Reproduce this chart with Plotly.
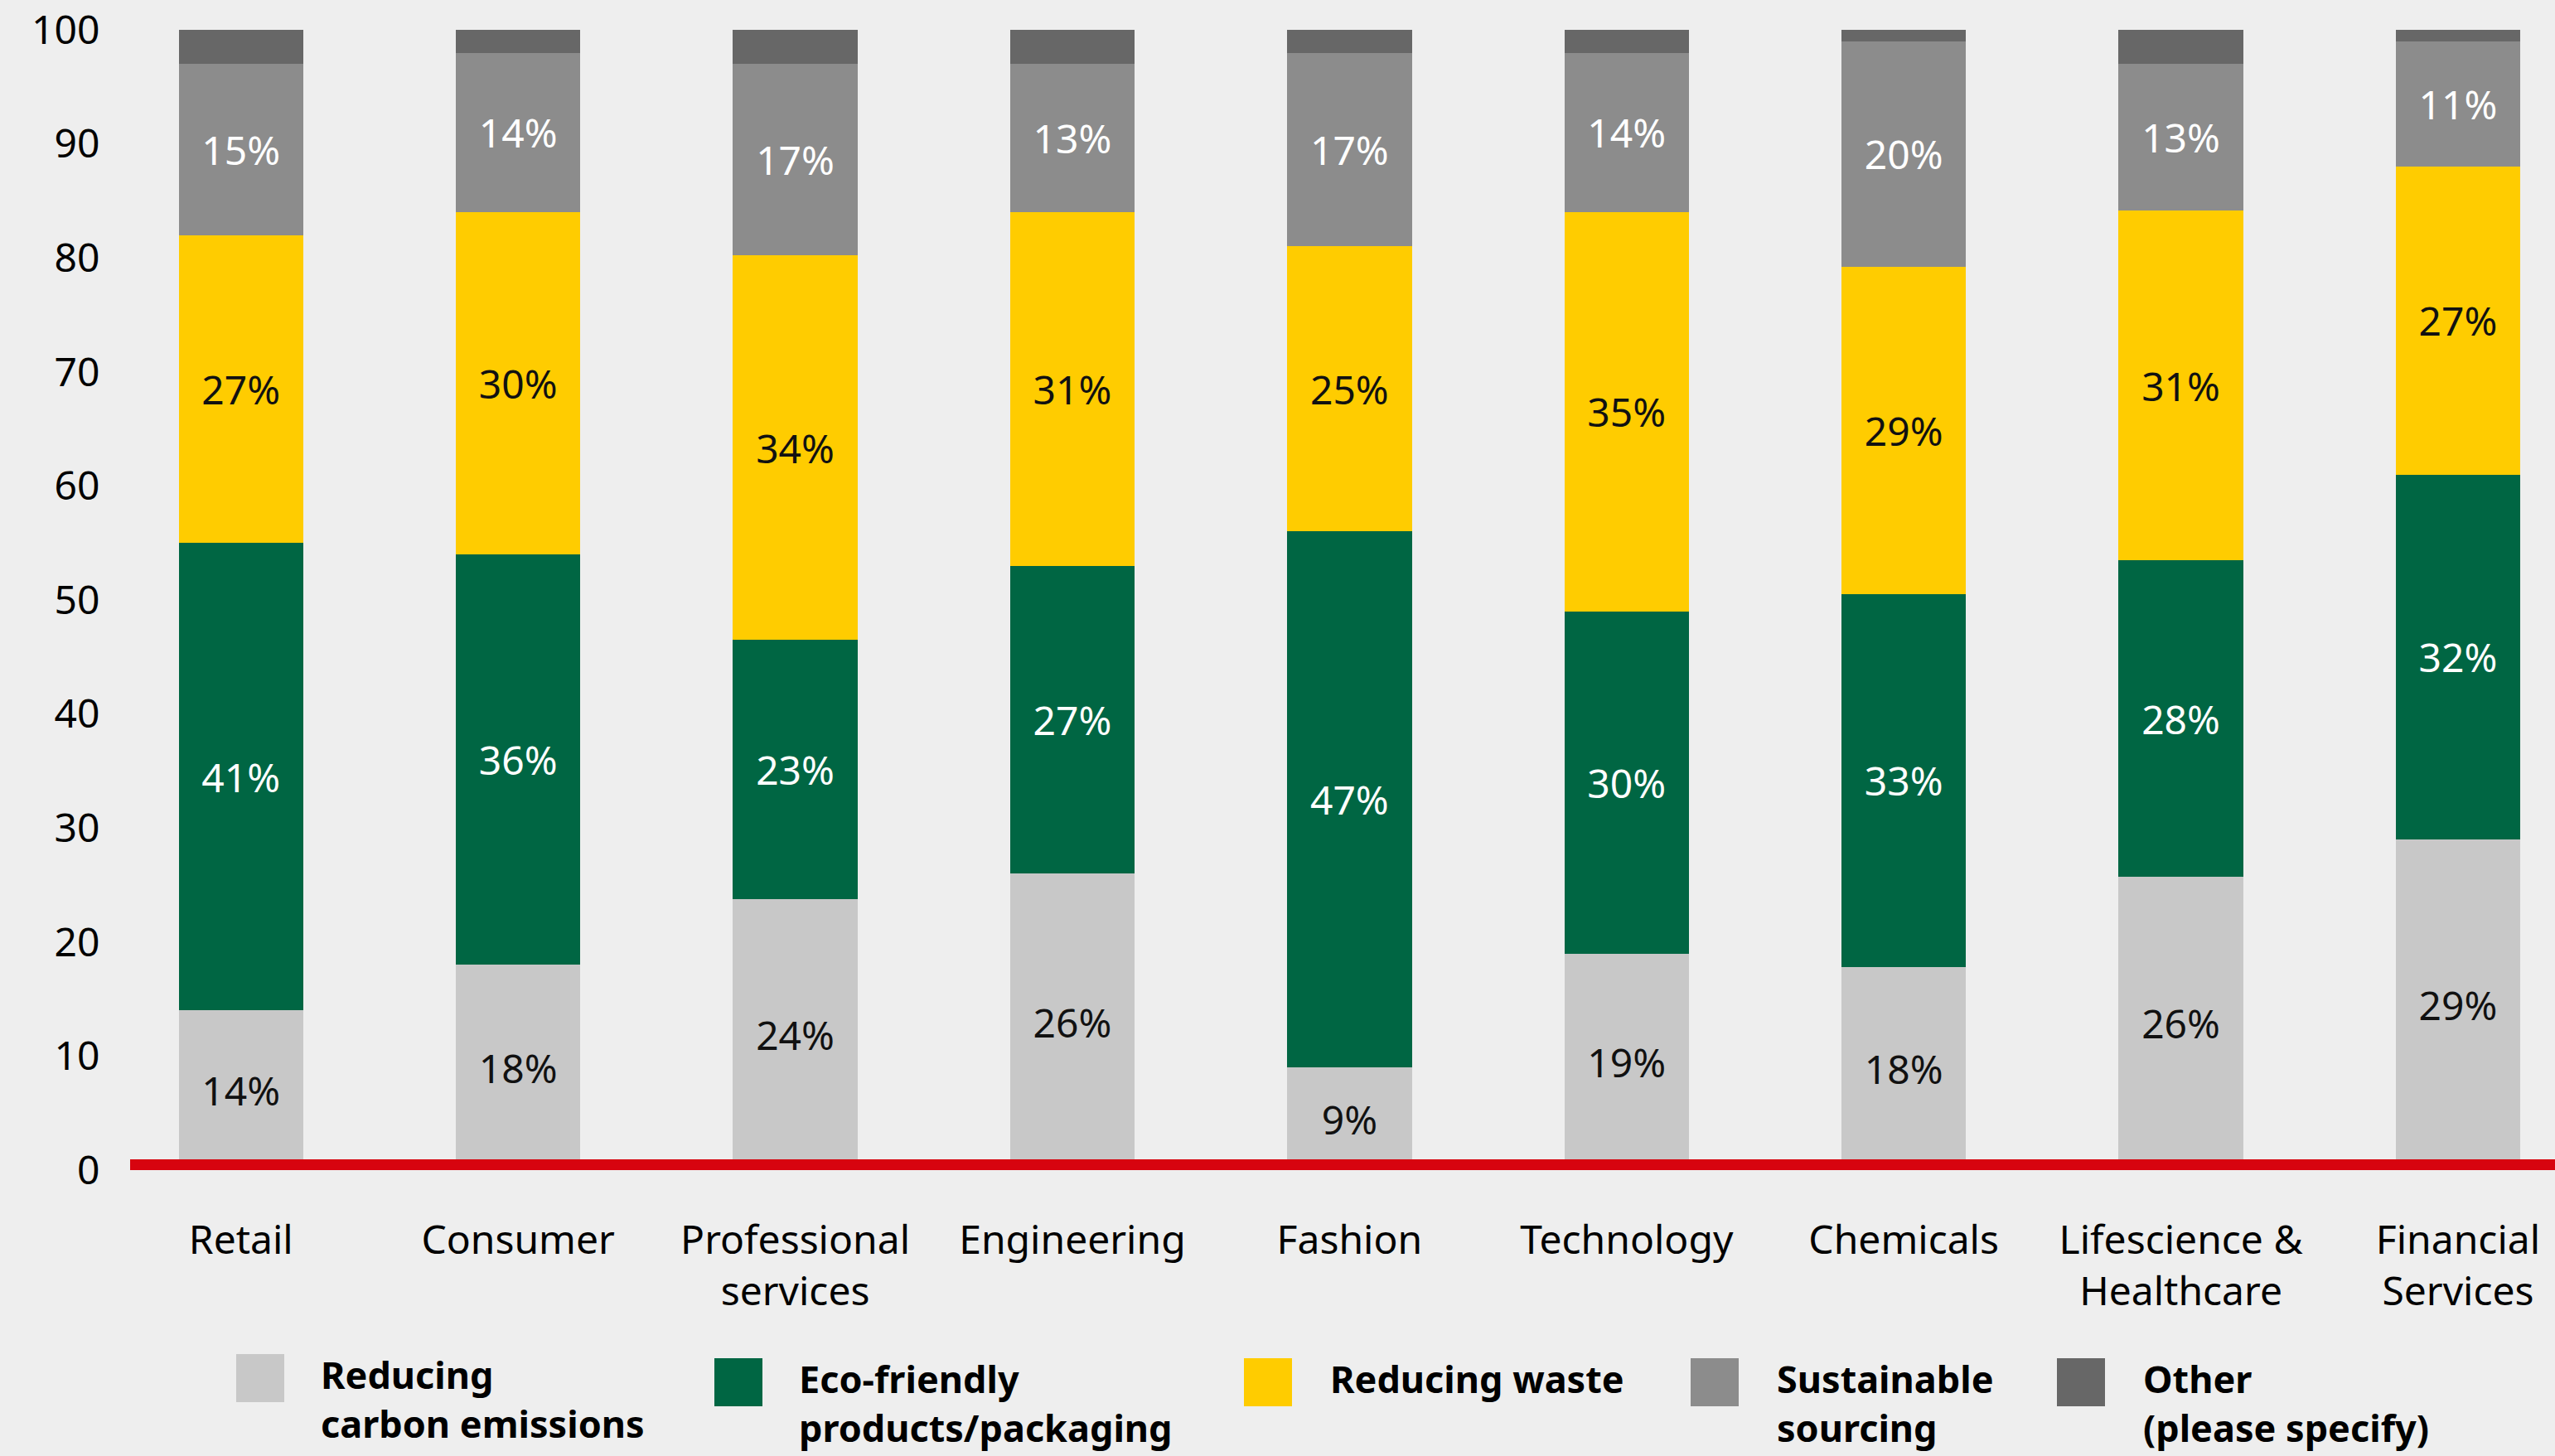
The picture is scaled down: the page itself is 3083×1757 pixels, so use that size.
import plotly.graph_objects as go

# Share of respondents (%) by industry and sustainability focus
categories = ["Retail", "Consumer", "Professional<br>services", "Engineering", "Fashion",
              "Technology", "Chemicals", "Lifescience &<br>Healthcare", "Financial<br>Services"]
reducing_carbon = [14, 18, 24, 26, 9, 19, 18, 26, 29]
eco_friendly = [41, 36, 23, 27, 47, 30, 33, 28, 32]
reducing_waste = [27, 30, 34, 31, 25, 35, 29, 31, 27]
sustainable_sourcing = [15, 14, 17, 13, 17, 14, 20, 13, 11]
other = [3, 2, 3, 3, 2, 2, 1, 3, 1]
y_ticks = [0, 10, 20, 30, 40, 50, 60, 70, 80, 90, 100]

series = [
    ("Reducing<br>carbon emissions", reducing_carbon, "#c8c8c8", "#111111", True),
    ("Eco-friendly<br>products/packaging", eco_friendly, "#006643", "#ffffff", True),
    ("Reducing waste", reducing_waste, "#ffcc00", "#111111", True),
    ("Sustainable<br>sourcing", sustainable_sourcing, "#8c8c8c", "#ffffff", True),
    ("Other<br>(please specify)", other, "#676767", "#ffffff", False),
]

W, H = 3083, 1757
M_L, M_R, M_T, M_B = 157, 0, 36, 345
PLOT_W = W - M_L - M_R
PLOT_H = H - M_T - M_B
FONT = "Noto Sans"


def px_x(px):
    return (px - M_L) / PLOT_W


def px_y(py):
    return (H - M_B - py) / PLOT_H


fig = go.Figure()
x_idx = list(range(len(categories)))
for name, vals, color, txt_color, labelled in series:
    fig.add_trace(go.Bar(
        x=x_idx,
        y=vals,
        name=name.replace("<br>", " "),
        marker=dict(color=color, line=dict(width=0)),
        text=[f"{v}%" for v in vals] if labelled else None,
        textposition="inside" if labelled else "none",
        insidetextanchor="middle",
        textangle=0,
        constraintext="none",
        textfont=dict(family=FONT, size=48, color=txt_color),
        showlegend=False,
    ))

# Red baseline across the full plotting width
fig.add_shape(type="line", xref="paper", yref="y", x0=0, x1=1, y0=0, y1=0,
              line=dict(color="#d7040f", width=26), layer="above")

# Legend built from swatches and bold labels
legend_items = [
    (285, 1634, 385),
    (862, 1639, 962),
    (1501, 1639, 1603),
    (2040, 1639, 2142),
    (2482, 1639, 2584),
]
for (name, vals, color, _, _), (sx, sy, tx) in zip(series, legend_items):
    fig.add_shape(type="rect", xref="paper", yref="paper",
                  x0=px_x(sx), x1=px_x(sx + 58), y0=px_y(sy), y1=px_y(sy + 58),
                  fillcolor=color, line=dict(width=0))
    fig.add_annotation(xref="paper", yref="paper", x=px_x(tx), y=px_y(sy - 8),
                       xanchor="left", yanchor="top", align="left", showarrow=False,
                       text=f"<b>{name}</b>",
                       font=dict(family=FONT, size=45, color="#000000"))

fig.update_layout(
    width=W, height=H,
    margin=dict(l=M_L, r=M_R, t=M_T, b=M_B, pad=0),
    barmode="stack",
    barnorm="percent",
    bargap=0.55,
    paper_bgcolor="#eeeeee",
    plot_bgcolor="rgba(0,0,0,0)",
    font=dict(family=FONT, color="#000000"),
    showlegend=False,
)
fig.update_xaxes(
    range=[-0.40, 8.35],
    tickmode="array", tickvals=x_idx, ticktext=categories,
    tickfont=dict(family=FONT, size=48, color="#000000"),
    ticks="outside", ticklen=42, tickcolor="rgba(0,0,0,0)",
    showgrid=False, zeroline=False, showline=False,
)
fig.update_yaxes(
    range=[0, 100],
    tickmode="array", tickvals=y_ticks,
    tickfont=dict(family=FONT, size=48, color="#000000"),
    ticks="outside", ticklen=26, tickcolor="rgba(0,0,0,0)",
    showgrid=False, zeroline=False, showline=False,
)

fig.write_html("out.html")
